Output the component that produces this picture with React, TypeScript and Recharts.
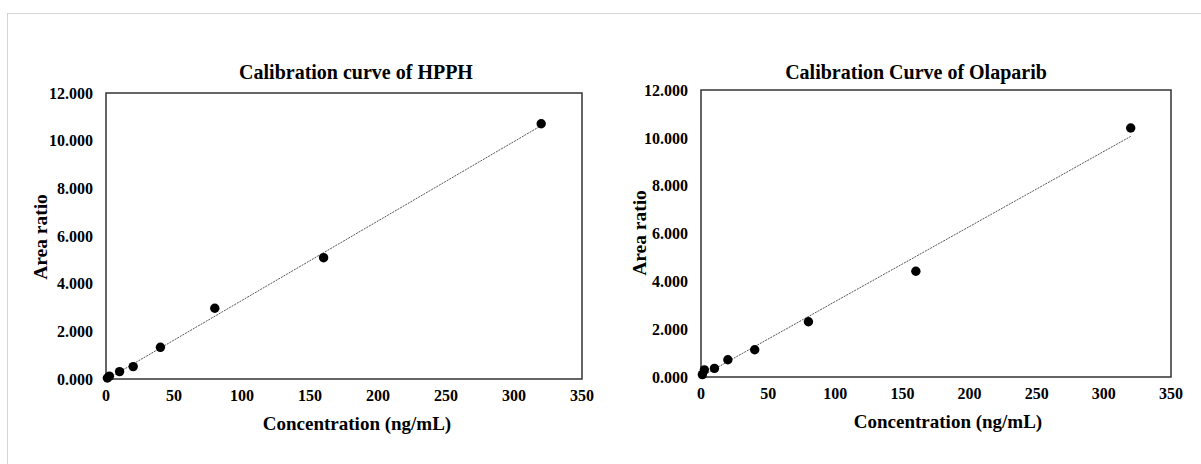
import { ScatterChart, Scatter, XAxis, YAxis, ReferenceArea } from "recharts";

const concentrations = [1, 2.5, 10, 20, 40, 80, 160, 320];
const hpphRatios = [0.04, 0.12, 0.31, 0.52, 1.33, 2.97, 5.09, 10.71];
const olaparibRatios = [0.1, 0.3, 0.36, 0.72, 1.14, 2.31, 4.42, 10.41];

// trend line end points
const trendX = [1, 320];
const hpphTrend = [0.0, 10.63];
const olaparibTrend = [0.05, 10.06];

const xTicks = [0, 50, 100, 150, 200, 250, 300, 350];
const yTicks = [0, 2, 4, 6, 8, 10, 12];

const FONT = "'Liberation Serif', 'Times New Roman', serif";

const toPoints = (xs: number[], ys: number[]) => xs.map((x, i) => ({ x, y: ys[i] }));

const tickStyle = { fontFamily: FONT, fontSize: 16, fontWeight: 700, fill: "#000" };

const Y_W = 60;
const X_H = 30;

function CalChart(props: {
  left: number;
  points: { x: number; y: number }[];
  trend: { x: number; y: number }[];
  margin: { top: number; left: number; right: number; bottom: number };
  title: string;
  titleX: number;
  xLabelX: number;
  xLabelY: number;
  yLabelX: number;
  yLabelY: number;
}) {
  const textBase: React.CSSProperties = {
    position: "absolute",
    fontFamily: FONT,
    fontWeight: 700,
    color: "#000",
    whiteSpace: "nowrap",
    lineHeight: 1,
  };
  const m = props.margin;
  return (
    <div style={{ position: "absolute", left: props.left, top: 0, width: 600, height: 464 }}>
      <ScatterChart
        width={600}
        height={464}
        margin={{ top: m.top, right: m.right, left: m.left - Y_W, bottom: m.bottom - X_H }}
      >
        <XAxis
          type="number"
          dataKey="x"
          domain={[0, 350]}
          ticks={xTicks}
          height={X_H}
          tickLine={false}
          tickSize={0}
          tickMargin={11}
          axisLine={false}
          tick={tickStyle}
          interval={0}
        />
        <YAxis
          type="number"
          dataKey="y"
          domain={[0, 12]}
          ticks={yTicks}
          width={Y_W}
          tickLine={false}
          tickSize={0}
          tickMargin={13}
          axisLine={false}
          tick={tickStyle}
          interval={0}
          tickFormatter={(v) => Number(v).toFixed(3)}
        />
        <ReferenceArea x1={0} x2={350} y1={0} y2={12} fill="none" stroke="#333" strokeWidth={1.5} />
        <Scatter
          data={props.trend}
          line={{ stroke: "#555", strokeWidth: 1, strokeDasharray: "2 1" }}
          lineType="joint"
          shape={() => <g />}
          isAnimationActive={false}
        />
        <Scatter
          data={props.points}
          shape={(p: any) => <circle cx={p.cx} cy={p.cy} r={4.7} fill="#000" />}
          isAnimationActive={false}
        />
      </ScatterChart>
      <div style={{ ...textBase, fontSize: 20, left: props.titleX, top: 72, transform: "translate(-50%, -50%)" }}>
        {props.title}
      </div>
      <div style={{ ...textBase, fontSize: 19, left: props.xLabelX, top: props.xLabelY, transform: "translate(-50%, -50%)" }}>
        Concentration (ng/mL)
      </div>
      <div
        style={{
          ...textBase,
          fontSize: 19.5,
          left: props.yLabelX,
          top: props.yLabelY,
          transform: "translate(-50%, -50%) rotate(-90deg)",
        }}
      >
        Area ratio
      </div>
    </div>
  );
}

export default function App() {
  return (
    <div style={{ position: "fixed", left: 0, top: 0, width: 1201, height: 464, background: "#fff", overflow: "hidden" }}>
      <div
        style={{
          position: "absolute",
          left: 7,
          top: 13,
          width: 1210,
          height: 470,
          border: "1.5px solid #d4d4d4",
        }}
      />
      <CalChart
        left={0}
        points={toPoints(concentrations, hpphRatios)}
        trend={toPoints(trendX, hpphTrend)}
        margin={{ top: 93, left: 106, right: 18, bottom: 85 }}
        title="Calibration curve of HPPH"
        titleX={356}
        xLabelX={357}
        xLabelY={423}
        yLabelX={41}
        yLabelY={237}
      />
      <CalChart
        left={600}
        points={toPoints(concentrations, olaparibRatios)}
        trend={toPoints(trendX, olaparibTrend)}
        margin={{ top: 90, left: 101, right: 29, bottom: 87 }}
        title="Calibration Curve of Olaparib"
        titleX={316}
        xLabelX={348}
        xLabelY={421}
        yLabelX={40}
        yLabelY={233}
      />
    </div>
  );
}
